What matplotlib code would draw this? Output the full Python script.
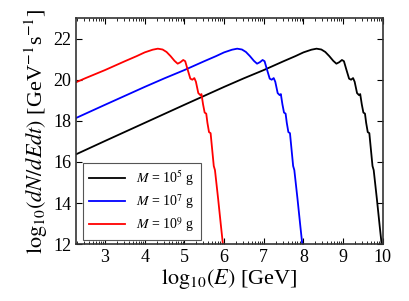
import numpy as np
import matplotlib
matplotlib.use('Agg')
import matplotlib.pyplot as plt

# spectrum (log10 E in GeV, log10 dN/dEdt)
logE_1e5 = [2.27, 3.0, 4.0, 5.0, 6.0, 6.5, 7.0, 7.5, 7.8, 8.0, 8.2, 8.33, 8.45,
            8.55, 8.65, 8.75, 8.83, 8.9, 8.97, 9.02, 9.08, 9.15, 9.2, 9.25, 9.29,
            9.35, 9.4, 9.43, 9.47, 9.51, 9.55, 9.58, 9.62, 9.66, 9.7, 9.74, 9.77,
            9.85, 9.92, 9.97]
logE_1e7 = [0.27, 1.0, 2.0, 3.0, 4.0, 4.5, 5.0, 5.5, 5.8, 6.0, 6.2, 6.33, 6.45,
            6.55, 6.65, 6.75, 6.83, 6.9, 6.97, 7.02, 7.08, 7.15, 7.2, 7.25, 7.29,
            7.35, 7.4, 7.43, 7.47, 7.51, 7.55, 7.58, 7.62, 7.66, 7.7, 7.74, 7.77,
            7.85, 7.92, 7.97]
logE_1e9 = [-1.73, -1.0, 0.0, 1.0, 2.0, 2.5, 3.0, 3.5, 3.8, 4.0, 4.2, 4.33, 4.45,
            4.55, 4.65, 4.75, 4.83, 4.9, 4.97, 5.02, 5.08, 5.15, 5.2, 5.25, 5.29,
            5.35, 5.4, 5.43, 5.47, 5.51, 5.55, 5.58, 5.62, 5.66, 5.7, 5.74, 5.77,
            5.85, 5.92, 5.97]
log_rate = [16.37, 17.02, 17.90, 18.78, 19.65, 20.07, 20.47, 20.90, 21.15, 21.33,
            21.46, 21.51, 21.47, 21.35, 21.15, 20.92, 20.78, 20.85, 20.96, 20.90,
            20.50, 20.05, 20.00, 20.08, 19.90, 19.35, 19.25, 19.30, 18.80, 18.40,
            18.35, 17.90, 17.45, 17.40, 16.60, 15.80, 15.60, 14.20, 12.90, 12.00]

labels = [r'$M$ = 10$^5$ g', r'$M$ = 10$^7$ g', r'$M$ = 10$^9$ g']
colors = ['black', 'blue', 'red']

plt.rcParams['font.family'] = ['Liberation Serif', 'DejaVu Serif']
plt.rcParams['mathtext.fontset'] = 'stix'

fig = plt.figure(figsize=(4.09, 3.01), dpi=100)
ax = fig.add_axes([0.186, 0.189, 0.750, 0.751])

for x, lab, c in zip([logE_1e5, logE_1e7, logE_1e9], labels, colors):
    ax.plot(x, log_rate, color=c, lw=1.3, label=lab)

ax.set_xlim(2.27, 10)
ax.set_ylim(12, 23)
ax.set_xticks([3, 4, 5, 6, 7, 8, 9, 10])
ax.set_yticks([12, 14, 16, 18, 20, 22])
minor = [n + np.log10(k) for n in range(2, 10) for k in range(2, 10)]
ax.set_xticks([m for m in minor if 2.27 < m < 10], minor=True)
ax.tick_params(which='both', direction='in', top=True, right=True, labelsize=13)
ax.tick_params(which='major', length=4, width=0.8)
ax.tick_params(which='minor', length=2, width=0.6)
for s in ax.spines.values():
    s.set_linewidth(1.2)
    s.set_color('#333333')

ax.set_xlabel(r'$\mathrm{log}_{10}(E)$ [GeV]', fontsize=16, labelpad=1)
ax.set_ylabel(r'$\mathrm{log}_{10}(dN/dEdt)$ [GeV$^{-1}$s$^{-1}$]', fontsize=16, labelpad=2)

leg = ax.legend(loc='lower left', fontsize=10, fancybox=False, framealpha=1,
                edgecolor='#555555', handlelength=2.6, borderpad=0.45,
                labelspacing=0.3, handletextpad=0.8, borderaxespad=0,
                bbox_to_anchor=(0.022, 0.016))
leg.get_frame().set_linewidth(0.8)

fig.savefig('out.png', dpi=100)
